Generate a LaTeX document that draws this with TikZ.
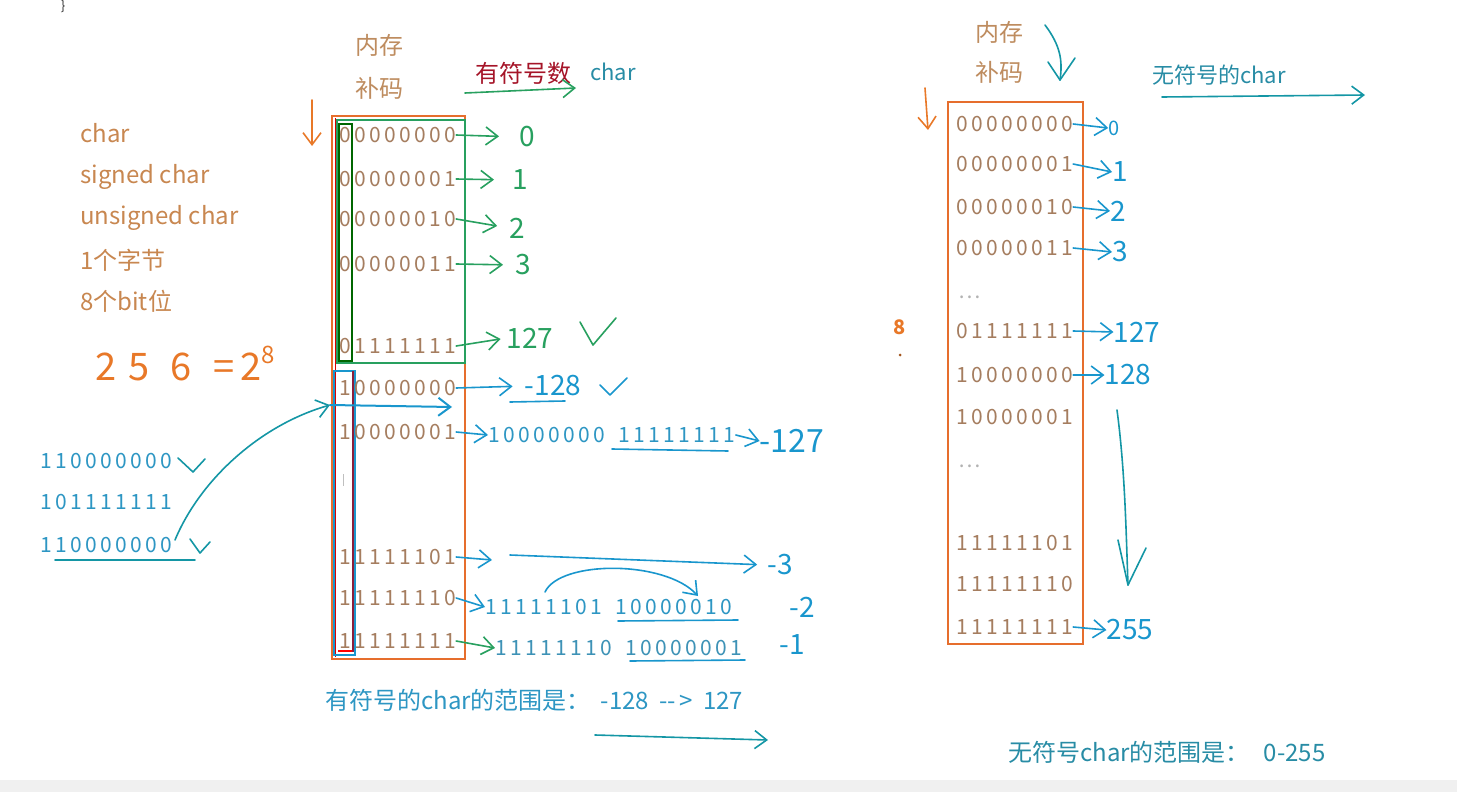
\documentclass[tikz,border=0pt]{standalone}
\usepackage{fontspec}
\setmainfont{Noto Sans CJK SC}
\newfontfamily\digfont{Noto Sans CJK SC}[LetterSpace=16]
\usetikzlibrary{arrows.meta}
\definecolor{labc}{RGB}{200,135,80}
\definecolor{tanc}{RGB}{190,140,95}
\definecolor{memc}{RGB}{165,125,95}
\definecolor{redc}{RGB}{165,20,40}
\definecolor{tealc}{RGB}{40,140,165}
\definecolor{bluet}{RGB}{45,150,195}
\definecolor{inkG}{RGB}{40,160,95}
\definecolor{inkB}{RGB}{25,150,205}
\definecolor{inkT}{RGB}{20,150,165}
\definecolor{inkO}{RGB}{232,120,40}
\definecolor{boxO}{RGB}{230,110,45}
\definecolor{maroon}{RGB}{140,30,60}
\tikzset{
  lbl/.style={anchor=west, inner sep=0pt, text=labc, font=\fontsize{24}{24}\selectfont},
  mem/.style={anchor=west, inner sep=0pt, text=memc, font=\digfont\fontsize{21}{21}\selectfont},
  btxt/.style={anchor=west, inner sep=0pt, text=bluet, font=\digfont\fontsize{21}{21}\selectfont},
  hand/.style={inner sep=0pt, font=\fontsize{28}{28}\selectfont},
  ink/.style={line width=1.6pt, line cap=round, line join=round},
  arr/.style={ink, -{Straight Barb[length=12pt,width=18pt]}},
}
\begin{document}
\begin{tikzpicture}[x=1pt,y=-1pt]
\useasboundingbox (0,0) rectangle (1457,792);
\fill[black!6] (0,780) rectangle (1457,792);
\node[inner sep=0pt, text=black!80, font=\fontsize{13}{13}\selectfont] (brace) at (63,6) {\}};

% left labels
\node[lbl] (l1) at (80,133) {char};
\node[lbl] (l2) at (80,177) {signed char};
\node[lbl] (l3) at (80,218) {unsigned char};
\node[lbl] (l4) at (80,260) {1个字节};
\node[lbl] (l5) at (80,301) {8个bit位};
\node[hand, anchor=west, text=inkO, font=\fontsize{38}{38}\selectfont] (pow) at (95,364) {2\,\,5\hspace{20pt}6\hspace{22pt}=\,2\raisebox{17pt}{\fontsize{24}{24}\selectfont 8}};

% headers left
\node[lbl, text=tanc] (nc1) at (355,45) {内存};
\node[lbl, text=tanc] (bm1) at (355,88) {补码};
\node[anchor=west, inner sep=0pt, text=redc, font=\fontsize{24}{24}\selectfont] (sgn) at (475,73) {有符号数};
\node[anchor=west, inner sep=0pt, text=tealc, font=\fontsize{22}{22}\selectfont] (chT) at (590,72) {char};
\draw[arr, inkG] (465,93) -- (576,88);
\draw[arr, inkO] (312,100) -- (312,146);

% left box
\draw[boxO, line width=1.4pt] (332,116) rectangle (465,659);
\draw[red!85!black, line width=1pt] (335,118) -- (335,657);
\draw[inkG, line width=1.3pt] (337,120) rectangle (465,363);
\draw[green!40!black, line width=1.2pt] (339,124) rectangle (352,361);
\draw[inkB, line width=1.3pt] (334,371) rectangle (355,655);
\draw[maroon, line width=1.2pt] (353,371) -- (353,652);
\draw[red, line width=1.2pt] (338,651) -- (352,651);

% left rows
\node[mem] (r1) at (339,135) {00000000};
\node[mem] (r2) at (339,179) {00000001};
\node[mem] (r3) at (339,219) {00000010};
\node[mem] (r4) at (339,264) {00000011};
\node[mem] (r5) at (339,346) {01111111};
\node[mem] (r6) at (339,388) {10000000};
\node[mem] (r7) at (339,432) {10000001};
\node[mem] (r8) at (339,557) {11111101};
\node[mem] (r9) at (339,598) {11111110};
\node[mem] (r10) at (339,641) {11111111};
\draw[black!25, line width=1pt] (343,474) -- (343,486);

% values signed (green)
\node[hand, text=inkG] (v1) at (527,137) {\textit{0}};
\node[hand, text=inkG] (v2) at (520,180) {1};
\node[hand, text=inkG] (v3) at (517,228) {2};
\node[hand, text=inkG] (v4) at (523,265) {3};
\node[hand, text=inkG] (v5) at (530,338) {127};
\draw[arr, inkG, shorten >=20pt] (r1.east) -- (v1.west);
\draw[arr, inkG, shorten >=18pt] (r2.east) -- (v2.west);
\draw[arr, inkG, shorten >=12pt] (r3.east) -- (v3.west);
\draw[arr, inkG, shorten >=12pt] (r4.east) -- (v4.west);
\draw[arr, inkG, shorten >=6pt] (r5.east) -- (v5.west);
\draw[ink, inkG] (580,322) -- (593,345) -- (616,318);

% 10000000 -> -128
\node[hand, text=inkB] (v6) at (553,386) {-128};
\draw[arr, inkB, shorten >=12pt] (r6.east) -- (v6.west);
\draw[ink, inkB] (510,402) -- (565,401);
\draw[ink, inkB] (600,385) -- (610,395) -- (627,378);

% long blue arrow inside box & curve from left
\coordinate (inA) at (330,405);
\coordinate (inB) at (452,407);
\draw[arr, inkB, line width=2pt] (inA) -- (inB);

% 10000001 -> 10000000 11111111 -> -127
\node[btxt] (t7) at (488,435) {10000000\; 11111111};
\node[hand, text=inkB, font=\fontsize{32}{32}\selectfont] (v7) at (792,441) {-127};
\draw[arr, inkB] (r7.east) -- (t7.west);
\draw[arr, inkB] (t7.east) -- (v7.west);
\draw[ink, inkB] (612,449) -- (728,451);

% 11111101 -> -3
\node[hand, text=inkB] (v8) at (780,565) {-3};
\coordinate (a8) at (492,560);
\coordinate (b8) at (510,555);
\draw[arr, inkB] (r8.east) -- (a8);
\draw[arr, inkB, shorten >=10pt] (b8) -- (v8.west);

% 11111110 -> 11111101 10000010  -2
\node[btxt] (t9) at (485,607) {11111101\; 10000010};
\node[hand, text=inkB] (v9) at (802,607) {-2};
\draw[arr, inkB] (r9.east) -- (t9.west);
\draw[ink, inkB] (618,621) -- (738,620);
\coordinate (c9a) at (545,592);
\coordinate (c9b) at (698,596);
\draw[arr, inkB] (c9a) .. controls (560,560) and (665,560) .. (c9b);

% 11111111 -> 11111110 10000001  -1
\node[btxt, text=bluet!80!gray] (t10) at (495,648) {11111110\; 10000001};
\node[hand, text=inkB] (v10) at (792,645) {-1};
\draw[arr, inkG] (r10.east) -- (t10.west);
\draw[ink, inkB] (630,661) -- (745,660);

% bottom left caption
\node[anchor=west, inner sep=0pt, text=bluet, font=\fontsize{24}{24}\selectfont] (rng1) at (325,700) {有符号的char的范围是：\hspace{10pt}-128\hspace{10pt}{-}{-}\,>\hspace{10pt}127};
\draw[arr, inkT] (595,735) -- (768,740);

% left blue numbers
\node[btxt] (n1) at (40,461) {110000000};
\node[btxt] (n2) at (40,502) {101111111};
\node[btxt] (n3) at (40,545) {110000000};
\draw[ink, inkT] (178,458) -- (193,472) -- (205,459);
\draw[ink, inkT] (190,539) -- (200,553) -- (210,542);
\draw[ink, inkT] (55,560) -- (195,560);
\draw[arr, inkT] (175,540) .. controls (200,480) and (260,425) .. (inA);

% right box
\draw[boxO, line width=1.4pt] (948,102) rectangle (1083,644);
\node[lbl, text=tanc] (nc2) at (975,32) {内存};
\node[lbl, text=tanc] (bm2) at (975,72) {补码};
\coordinate (dA) at (1045,25);
\coordinate (dB) at (1060,80);
\draw[ink, inkT] (dA) .. controls (1060,45) and (1063,60) .. (dB);
\draw[ink, inkT] (1048,62) -- (1060,80) -- (1075,58);
\draw[arr, inkO] (925,88) -- (928,130);
\node[anchor=west, inner sep=0pt, text=tealc, font=\fontsize{22}{22}\selectfont] (uch) at (1152,75) {无符号的char};
\draw[arr, inkT] (1162,97) -- (1365,95);
\node[inner sep=0pt, text=inkO, font=\bfseries\fontsize{20}{20}\selectfont] (eight) at (900,327) {8};
\fill[inkO!70!black] (900,355) circle (1.5pt);

\node[mem] (s1) at (956,124) {00000000};
\node[mem] (s2) at (956,164) {00000001};
\node[mem] (s3) at (956,207) {00000010};
\node[mem] (s4) at (956,248) {00000011};
\node[mem, text=black!30] (s5) at (958,297) {…};
\node[mem] (s6) at (956,331) {01111111};
\node[mem] (s7) at (956,375) {10000000};
\node[mem] (s8) at (956,417) {10000001};
\node[mem, text=black!30] (s9) at (958,466) {…};
\node[mem] (s10) at (956,543) {11111101};
\node[mem] (s11) at (956,584) {11111110};
\node[mem] (s12) at (956,627) {11111111};

\node[hand, text=inkB, font=\fontsize{20}{20}\selectfont] (u1) at (1114,128) {0};
\node[hand, text=inkB] (u2) at (1120,172) {1};
\node[hand, text=inkB] (u3) at (1118,211) {2};
\node[hand, text=inkB] (u4) at (1120,252) {3};
\node[hand, text=inkB] (u6) at (1137,332) {127};
\node[hand, text=inkB] (u7) at (1128,375) {128};
\node[hand, text=inkB] (u12) at (1130,630) {255};
\draw[arr, inkB] (s1.east) -- (u1.west);
\draw[arr, inkB] (s2.east) -- (u2.west);
\draw[arr, inkB] (s3.east) -- (u3.west);
\draw[arr, inkB] (s4.east) -- (u4.west);
\draw[arr, inkB] (s6.east) -- (u6.west);
\draw[arr, inkB] (s7.east) -- (u7.west);
\draw[arr, inkB] (s12.east) -- (u12.west);
\coordinate (dnA) at (1117,410);
\coordinate (dnB) at (1128,585);
\draw[ink, inkT] (dnA) .. controls (1125,470) and (1126,530) .. (dnB);
\draw[ink, inkT] (1118,540) -- (1128,585) -- (1146,548);

\node[anchor=west, inner sep=0pt, text=tealc, font=\fontsize{24}{24}\selectfont] (rng2) at (1008,752) {无符号char的范围是：\hspace{14pt}0-255};
\end{tikzpicture}
\end{document}
